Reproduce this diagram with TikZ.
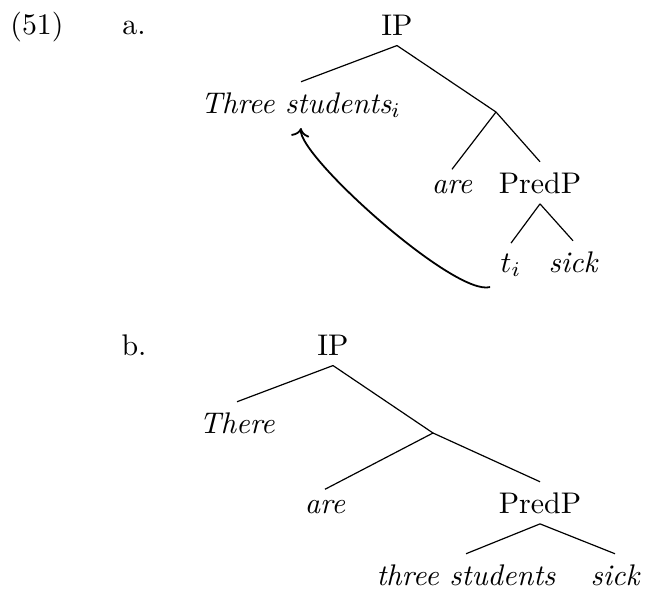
\documentclass[tikz,border=0pt]{standalone}
\usepackage{tikz}
\usetikzlibrary{arrows.meta,positioning,calc}

\begin{document}
\begin{tikzpicture}[
x=0.335pt,y=-0.335pt,
cat/.style={anchor=base},
wd/.style={anchor=base,font=\itshape},
br/.style={thin},
mv/.style={->,semithick}
]
\useasboundingbox (0,0) rectangle (645,596);
% (51a)
\node[cat] (ex) at (37,34) {(51)};
\node[cat] (la) at (134,34) {a.};
\node[cat] (IPa) at (397,35) {IP};
\node[wd] (Ta) at (301,113) {Three students$_i$};
\coordinate (Xa) at (496,112);
\node[wd] (area) at (452,193) {are};
\node[cat] (PPa) at (540,193) {PredP};
\node[wd] (ti) at (511,272) {$t_i$};
\node[wd] (sicka) at (573,272) {sick};
\draw[br] (IPa.south) -- (Ta.north);
\draw[br] (IPa.south) -- (Xa);
\draw[br] (Xa) -- (area.north);
\draw[br] (Xa) -- (PPa.north);
\draw[br] (PPa.south) -- (ti.north);
\draw[br] (PPa.south) -- (sicka.north);
\draw[mv] (ti.south west) .. controls +(-35,10) and +(-3,28) .. (Ta.south);
% (51b)
\node[cat] (lb) at (134,355) {b.};
\node[cat] (IPb) at (333,355) {IP};
\node[wd] (Th) at (237,433) {There};
\coordinate (Xb) at (433,433);
\node[wd] (areb) at (325,513) {are};
\node[cat] (PPb) at (540,513) {PredP};
\node[wd] (ts) at (466,585) {three students};
\node[wd] (sickb) at (615,585) {sick};
\draw[br] (IPb.south) -- (Th.north);
\draw[br] (IPb.south) -- (Xb);
\draw[br] (Xb) -- (areb.north);
\draw[br] (Xb) -- (PPb.north);
\draw[br] (PPb.south) -- (ts.north);
\draw[br] (PPb.south) -- (sickb.north);
\end{tikzpicture}
\end{document}
